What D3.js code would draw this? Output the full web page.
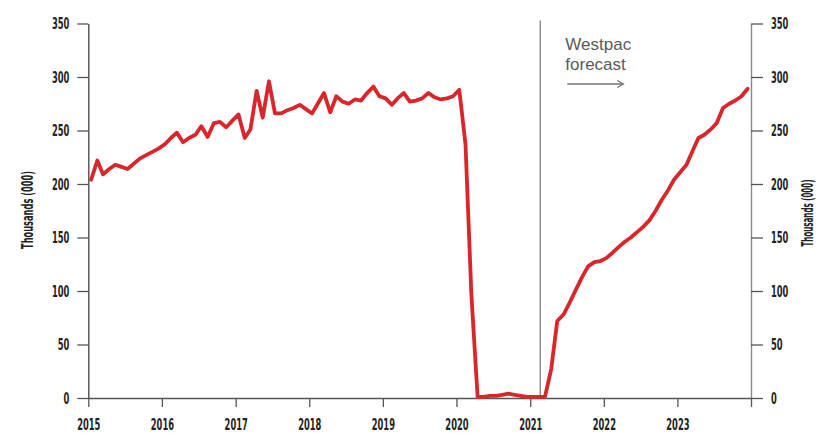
<!DOCTYPE html>
<html>
<head>
<meta charset="utf-8">
<script src="https://cdn.jsdelivr.net/npm/d3@7"></script>
<style>
  html, body { margin: 0; padding: 0; background: #fff; }
  svg { display: block; }
  .axis text { font-family: "Liberation Sans Narrow", "DejaVu Sans Condensed", sans-serif; font-weight: bold; font-size: 16px; fill: #222; }
  .axis-title { font-family: "Liberation Sans Narrow", "DejaVu Sans Condensed", sans-serif; font-weight: bold; font-size: 15px; fill: #222; }
  .note { font-family: "Liberation Sans", Arial, sans-serif; font-size: 17px; fill: #5a5a5a; }
</style>
</head>
<body>
<svg id="chart" width="823" height="433"></svg>
<script>
// Monthly short-term visitor arrivals, thousands, Jan 2015 – Dec 2023
const startMonth = new Date(2015, 0, 15);
const arrivals = [
  // 2015
  204, 222, 209, 214, 218, 216, 214, 219, 224, 227, 230, 233,
  // 2016
  237, 243, 248, 239, 243, 246, 254, 244, 257, 258, 253, 259,
  // 2017
  265, 243, 251, 287, 262, 296, 266, 266, 269, 271, 274, 270,
  // 2018
  266, 276, 285, 267, 282, 277, 275, 279, 278, 285, 291, 282,
  // 2019
  280, 274, 280, 285, 277, 278, 280, 285, 281, 279, 280, 282,
  // 2020
  288, 237, 97, 1, 1, 2, 2, 3, 4, 3, 2, 1,
  // 2021
  1, 1, 1, 27, 72, 78, 89, 101, 113, 123, 127, 128,
  // 2022
  131, 136, 141, 146, 150, 155, 160, 166, 175, 185, 194, 204,
  // 2023
  211, 218, 230, 243, 246, 251, 257, 271, 275, 278, 282, 289
];
const yearTicks = [2015, 2016, 2017, 2018, 2019, 2020, 2021, 2022, 2023, 2024];
const yearLabels = ["2015", "2016", "2017", "2018", "2019", "2020", "2021", "2022", "2023", ""];
const valueTicks = [0, 50, 100, 150, 200, 250, 300, 350];
const forecastStart = new Date(2021, 1, 20);
const axisTitle = "Thousands (000)";
const noteLines = ["Westpac", "forecast"];

const svg = d3.select("#chart");

const x = d3.scaleTime()
  .domain([new Date(2015, 0, 1), new Date(2024, 0, 1)])
  .range([88.3, 751]);
const y = d3.scaleLinear()
  .domain([0, 350])
  .range([398, 23.5]);

const points = arrivals.map((v, i) => ({ date: d3.timeMonth.offset(startMonth, i), value: v }));

// squeeze tick labels into a condensed look
const condense = sel => sel.selectAll(".tick text").each(function () {
  const t = d3.select(this);
  const n = t.text().length;
  if (n) t.attr("textLength", n * 5.8).attr("lengthAdjust", "spacingAndGlyphs");
});

// forecast divider
svg.append("line")
  .attr("x1", x(forecastStart)).attr("x2", x(forecastStart))
  .attr("y1", y(350) - 3).attr("y2", y(0))
  .attr("stroke", "#8a8a8a").attr("stroke-width", 1.4);

// x axis
const xAxis = svg.append("g").attr("class", "axis")
  .attr("transform", `translate(0,${y(0)})`)
  .call(d3.axisBottom(x)
    .tickValues(yearTicks.map(yr => new Date(yr, 0, 1)))
    .tickFormat((d, i) => yearLabels[i])
    .tickSize(9).tickSizeOuter(0).tickPadding(11.5));
xAxis.select(".domain").attr("stroke", "#555").attr("stroke-width", 1.3);
xAxis.selectAll(".tick line").attr("stroke", "#555").attr("stroke-width", 1.3);
condense(xAxis);

// left axis
const yLeft = svg.append("g").attr("class", "axis")
  .attr("transform", `translate(${x.range()[0]},0)`)
  .call(d3.axisLeft(y).tickValues(valueTicks).tickSize(11).tickSizeOuter(0).tickPadding(8));
yLeft.select(".domain").attr("stroke", "#444").attr("stroke-width", 1.3);
yLeft.selectAll(".tick line").attr("stroke", "#555").attr("stroke-width", 1.3);
condense(yLeft);

// right axis
const yRight = svg.append("g").attr("class", "axis")
  .attr("transform", `translate(${x.range()[1]},0)`)
  .call(d3.axisRight(y).tickValues(valueTicks).tickSize(12).tickSizeOuter(0).tickPadding(8));
yRight.select(".domain").attr("stroke", "#888").attr("stroke-width", 1.4);
yRight.selectAll(".tick line").attr("stroke", "#555").attr("stroke-width", 1.3);
condense(yRight);

// axis titles
svg.append("text").attr("class", "axis-title")
  .attr("transform", "translate(33,210) rotate(-90)")
  .attr("text-anchor", "middle")
  .attr("textLength", 78).attr("lengthAdjust", "spacingAndGlyphs")
  .text(axisTitle);
svg.append("text").attr("class", "axis-title")
  .attr("transform", "translate(813,213) rotate(-90)")
  .attr("text-anchor", "middle")
  .attr("textLength", 67).attr("lengthAdjust", "spacingAndGlyphs")
  .text(axisTitle);

// arrivals line
svg.append("path")
  .datum(points)
  .attr("fill", "none")
  .attr("stroke", "#d9262b")
  .attr("stroke-width", 3.8)
  .attr("stroke-linejoin", "round")
  .attr("stroke-linecap", "round")
  .attr("d", d3.line().x(d => x(d.date)).y(d => y(d.value)));

// forecast note
const noteX = x(forecastStart) + 25;
svg.selectAll(".note").data(noteLines).join("text")
  .attr("class", "note")
  .attr("x", noteX)
  .attr("y", (d, i) => 50 + i * 19.5)
  .text(d => d);

const arrowY = 84;
svg.append("line")
  .attr("x1", noteX + 2).attr("x2", noteX + 58)
  .attr("y1", arrowY).attr("y2", arrowY)
  .attr("stroke", "#777").attr("stroke-width", 1.4);
svg.append("path")
  .attr("d", `M${noteX + 52},${arrowY - 3.5} L${noteX + 58},${arrowY} L${noteX + 52},${arrowY + 3.5}`)
  .attr("fill", "none").attr("stroke", "#777").attr("stroke-width", 1.4);
</script>
</body>
</html>
